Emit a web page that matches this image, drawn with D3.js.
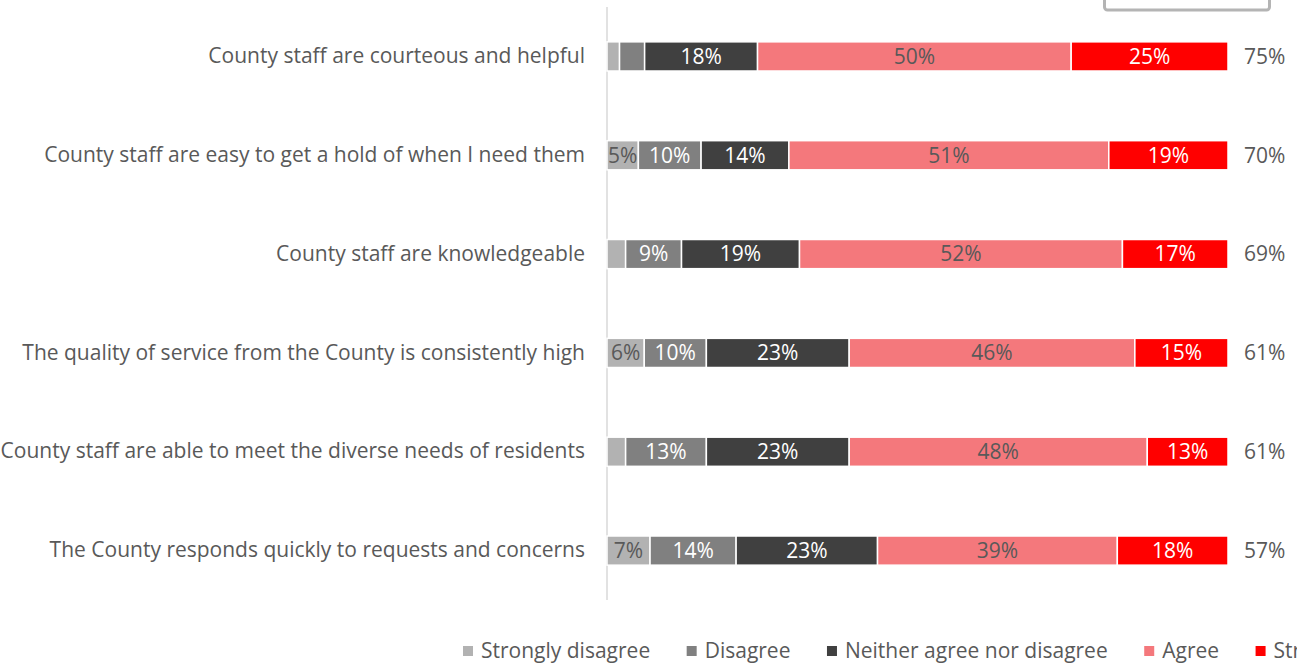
<!DOCTYPE html>
<html>
<head>
<meta charset="utf-8">
<script src="https://cdn.jsdelivr.net/npm/d3@7"></script>
<style>
  html, body { margin: 0; padding: 0; background: #fff; }
  svg { display: block; }
  text { font-family: "Open Sans", Lato, sans-serif; }
</style>
</head>
<body>
<svg id="chart" width="1297" height="671"></svg>
<script>
// Survey statements, top to bottom
const statements = [
  "County staff are courteous and helpful",
  "County staff are easy to get a hold of when I need them",
  "County staff are knowledgeable",
  "The quality of service from the County is consistently high",
  "County staff are able to meet the diverse needs of residents",
  "The County responds quickly to requests and concerns"
];

// Response categories (legend order)
const responses = ["Strongly disagree", "Disagree", "Neither agree nor disagree", "Agree", "Strongly agree"];

// Percent of respondents per statement
const stronglyDisagree = [2, 5, 3, 6, 3, 7];
const disagree         = [4, 10, 9, 10, 13, 14];
const neither          = [18, 14, 19, 23, 23, 23];
const agree            = [50, 51, 52, 46, 48, 39];
const stronglyAgree    = [25, 19, 17, 15, 13, 18];

const colors = ["#b2b2b2", "#808080", "#404040", "#f4787c", "#ff0000"];
const labelColors = ["#595959", "#ffffff", "#ffffff", "#595959", "#ffffff"];

const seriesValues = [stronglyDisagree, disagree, neither, agree, stronglyAgree];
const rows = statements.map((s, i) => {
  const r = { statement: s };
  responses.forEach((k, j) => { r[k] = seriesValues[j][i]; });
  return r;
});

const svg = d3.select("#chart");
const fontSize = 21;
const textGray = "#595959";

const x = d3.scaleLinear().domain([0, 1]).range([607, 1228]);
const y = d3.scaleBand().domain(statements).range([7, 600])
  .paddingInner(0.705).paddingOuter(0.3525);

// 100% stacked layout
const stacked = d3.stack().keys(responses).offset(d3.stackOffsetExpand)(rows);

// Vertical category axis line
svg.append("line")
  .attr("x1", x(0)).attr("x2", x(0))
  .attr("y1", 7).attr("y2", 600)
  .attr("stroke", "#d9d9d9").attr("stroke-width", 1.5);

// Category labels
const yAxis = d3.axisLeft(y).tickSize(0).tickPadding(22);
const gy = svg.append("g").attr("transform", `translate(${x(0)},0)`).call(yAxis);
gy.select(".domain").remove();
gy.selectAll("text")
  .attr("font-family", "'Open Sans', Lato, sans-serif")
  .attr("font-size", fontSize)
  .attr("fill", textGray);

// Bars
const layers = svg.append("g").selectAll("g")
  .data(stacked).join("g")
  .attr("fill", (d, i) => colors[i]);

layers.selectAll("rect")
  .data(d => d.map(p => ({ p, row: p.data })))
  .join("rect")
  .attr("x", d => x(d.p[0]))
  .attr("width", d => x(d.p[1]) - x(d.p[0]))
  .attr("y", d => y(d.row.statement))
  .attr("height", y.bandwidth())
  .attr("stroke", "#fff")
  .attr("stroke-width", 1.5);

// Segment value labels (hidden for very small slices)
stacked.forEach((layer, i) => {
  svg.append("g").selectAll("text")
    .data(layer.filter(p => p.data[layer.key] >= 5))
    .join("text")
    .attr("x", p => (x(p[0]) + x(p[1])) / 2)
    .attr("y", p => y(p.data.statement) + y.bandwidth() / 2)
    .attr("dy", "0.35em")
    .attr("text-anchor", "middle")
    .attr("font-size", fontSize)
    .attr("fill", labelColors[i])
    .text(p => p.data[layer.key] + "%");
});

// Total agreement (Agree + Strongly agree) at the end of each bar
svg.append("g").selectAll("text")
  .data(rows)
  .join("text")
  .attr("x", x(1) + 16)
  .attr("y", d => y(d.statement) + y.bandwidth() / 2)
  .attr("dy", "0.35em")
  .attr("font-size", fontSize)
  .attr("fill", textGray)
  .text(d => (d["Agree"] + d["Strongly agree"]) + "%");

// Legend along the bottom (runs past the right edge of the canvas)
const legend = svg.append("g").attr("transform", "translate(463,651)");
let lx = 0;
responses.forEach((r, i) => {
  const item = legend.append("g").attr("transform", `translate(${lx},0)`);
  item.append("rect").attr("x", 0).attr("y", -5).attr("width", 10).attr("height", 10)
    .attr("fill", colors[i]);
  const t = item.append("text").attr("x", 18).attr("dy", "0.35em")
    .attr("font-size", fontSize).attr("fill", textGray).text(r);
  lx += 18 + t.node().getComputedTextLength() + 36.5;
});

// Framed box at the top right
svg.append("rect")
  .attr("x", 1104.5).attr("y", -20).attr("width", 165).attr("height", 30)
  .attr("rx", 3).attr("fill", "#fff")
  .attr("stroke", "#b4b4b4").attr("stroke-width", 3);
</script>
</body>
</html>
